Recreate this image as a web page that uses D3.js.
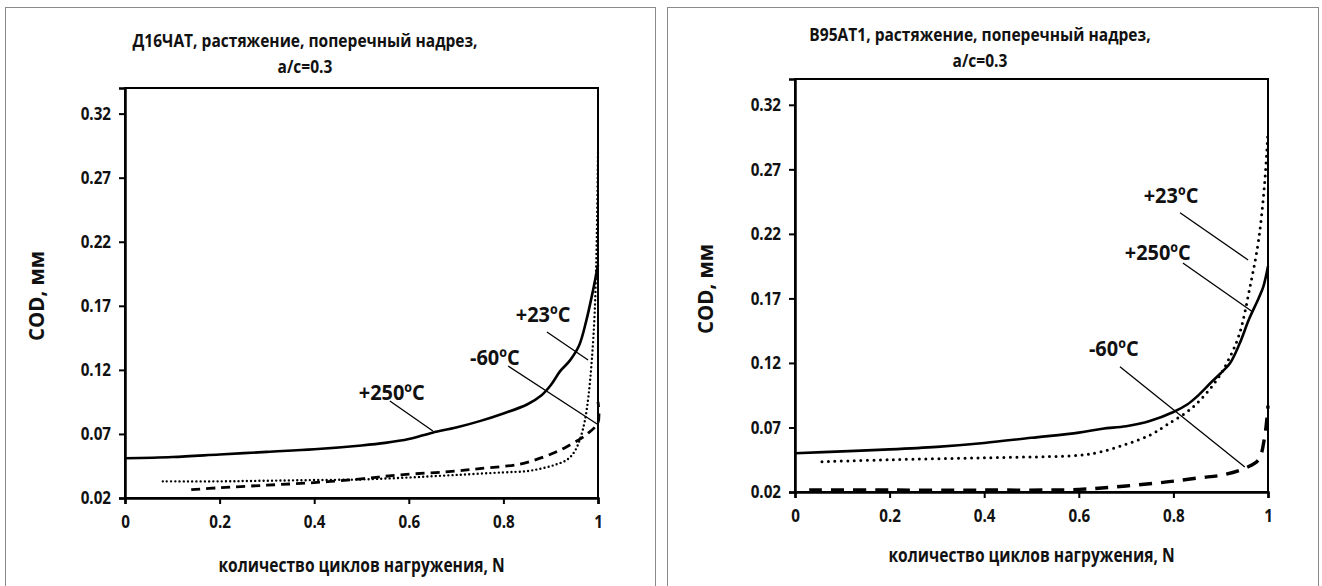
<!DOCTYPE html>
<html><head><meta charset="utf-8">
<script src="https://cdn.jsdelivr.net/npm/d3@7"></script>
<style>
html,body{margin:0;padding:0;background:#fff;}
svg{display:block;}
text{font-family:"Open Sans","Noto Sans",sans-serif;font-weight:700;fill:#111;}
</style></head>
<body>
<svg id="chart" width="1322" height="586"></svg>
<script>
// ---- data ----
const xTicks = [0, 0.2, 0.4, 0.6, 0.8, 1];
const yTicks = [0.02, 0.07, 0.12, 0.17, 0.22, 0.27, 0.32];
const titlesLeft = ["Д16ЧАТ, растяжение, поперечный надрез,", "a/c=0.3"];
const titlesRight = ["B95AT1, растяжение, поперечный надрез,", "a/c=0.3"];
const xLabel = "количество циклов нагружения, N";
const yLabel = "COD, мм";
const seriesNames = ["+250ºC", "+23ºC", "-60ºC"];

// Д16ЧАТ  [N, COD]
const d16_T250 = [[0,0.051],[0.1,0.052],[0.2,0.054],[0.3,0.056],[0.4,0.058],[0.5,0.061],[0.55,0.063],[0.6,0.066],[0.65,0.071],[0.7,0.075],[0.75,0.080],[0.8,0.086],[0.85,0.093],[0.88,0.100],[0.9,0.108],[0.92,0.119],[0.94,0.127],[0.96,0.139],[0.975,0.158],[0.99,0.183],[1,0.202]];
const d16_T23 = [[0.08,0.033],[0.2,0.033],[0.3,0.0335],[0.4,0.034],[0.5,0.0345],[0.6,0.036],[0.7,0.038],[0.8,0.040],[0.85,0.041],[0.88,0.043],[0.91,0.046],[0.935,0.050],[0.95,0.056],[0.962,0.066],[0.972,0.080],[0.98,0.100],[0.987,0.128],[0.993,0.165],[0.997,0.215],[1,0.29]];
const d16_Tm60 = [[0.14,0.0265],[0.2,0.028],[0.3,0.030],[0.4,0.032],[0.5,0.035],[0.58,0.038],[0.7,0.041],[0.75,0.043],[0.835,0.0465],[0.892,0.053],[0.934,0.060],[0.977,0.070],[1,0.079],[1,0.095]];

// B95AT1  [N, COD]
const b95_T250 = [[0,0.050],[0.1,0.0515],[0.2,0.053],[0.3,0.055],[0.4,0.058],[0.5,0.062],[0.6,0.066],[0.65,0.069],[0.7,0.071],[0.75,0.075],[0.8,0.082],[0.83,0.088],[0.85,0.094],[0.88,0.105],[0.9,0.112],[0.92,0.120],[0.94,0.135],[0.96,0.154],[0.98,0.170],[0.99,0.179],[1,0.195]];
const b95_T23 = [[0.057,0.0435],[0.2,0.045],[0.4,0.0465],[0.6,0.0485],[0.645,0.051],[0.7,0.057],[0.75,0.064],[0.786,0.072],[0.842,0.086],[0.892,0.107],[0.92,0.125],[0.94,0.143],[0.962,0.179],[0.98,0.215],[0.993,0.260],[1,0.300]];
const b95_Tm60 = [[0.03,0.0215],[0.2,0.0215],[0.4,0.0215],[0.6,0.022],[0.7,0.0247],[0.786,0.0278],[0.855,0.031],[0.905,0.0333],[0.955,0.039],[0.98,0.045],[0.993,0.063],[1,0.087]];

// ---- drawing ----
const svg = d3.select("#chart");
const styles = {
  solid:  {w:2.6, dash:null, cap:"butt"},
  dotL:   {w:2.4, dash:"0 4.2", cap:"round"},
  dotR:   {w:3.0, dash:"0 6.5", cap:"round"},
  dashL:  {w:2.8, dash:"9 6", cap:"butt"},
  dashR:  {w:3.4, dash:"13 9", cap:"butt"}
};
function squeeze(k){
  return sel => sel.each(function(){
    const w = this.getComputedTextLength();
    d3.select(this).attr("textLength", w*k).attr("lengthAdjust","spacingAndGlyphs");
  });
}

function panel(cfg){
  const g = svg.append("g");
  g.append("rect").attr("x",cfg.frame[0]+0.5).attr("y",cfg.frame[1]+0.5)
   .attr("width",cfg.frame[2]).attr("height",cfg.frame[3])
   .attr("fill","none").attr("stroke","#8a8a8a").attr("stroke-width",1);

  const x = d3.scaleLinear().domain([0,1]).range([cfg.x0,cfg.x1]);
  const y = d3.scaleLinear().domain([0.02,0.34]).range([cfg.y0,cfg.y1]);

  cfg.titles.forEach((t,i)=>{
    g.append("text").attr("x",cfg.titleX).attr("y",cfg.titleY+i*25.5)
     .attr("text-anchor","middle").attr("font-size",18.5).text(t).call(squeeze(0.84));
  });

  g.append("rect").attr("x",cfg.x0).attr("y",cfg.y1).attr("width",cfg.x1-cfg.x0).attr("height",cfg.y0-cfg.y1)
   .attr("fill","none").attr("stroke","#000").attr("stroke-width",2);

  const yAxis = g.append("g").attr("transform",`translate(${cfg.x0},0)`)
    .call(d3.axisLeft(y).tickValues(yTicks).tickFormat(d3.format(".2f")).tickSize(6).tickPadding(8));
  const xAxis = g.append("g").attr("transform",`translate(0,${cfg.y0})`)
    .call(d3.axisBottom(x).tickValues(xTicks).tickFormat(d=>d===0||d===1?String(d):d3.format(".1f")(d)).tickSize(6).tickPadding(11));
  [yAxis,xAxis].forEach(a=>{
    a.select(".domain").attr("stroke","#000").attr("stroke-width",2.5);
    a.selectAll(".tick line").attr("stroke","#000").attr("stroke-width",2);
    a.selectAll(".tick text").attr("font-size",18.5).attr("fill","#111")
      .attr("font-family",'"Open Sans","Noto Sans",sans-serif').attr("font-weight",700).call(squeeze(0.82));
  });

  g.append("text").attr("x",(cfg.x0+cfg.x1)/2).attr("y",cfg.xLabelY)
   .attr("text-anchor","middle").attr("font-size",19.5).text(xLabel).call(squeeze(0.8));
  g.append("text").attr("transform",`translate(${cfg.yLabelX},${cfg.yLabelY}) rotate(-90)`)
   .attr("text-anchor","middle").attr("font-size",22).text(yLabel).call(squeeze(0.93));

  const line = d3.line().x(d=>x(d[0])).y(d=>y(d[1])).curve(d3.curveCatmullRom.alpha(0.5));
  cfg.series.forEach(s=>{
    const st = styles[s.style];
    g.append("path").datum(s.data).attr("d",line).attr("fill","none")
     .attr("stroke","#000").attr("stroke-width",st.w)
     .attr("stroke-dasharray",st.dash).attr("stroke-linecap",st.cap).attr("stroke-linejoin","round");
  });

  cfg.notes.forEach(n=>{
    g.append("line").attr("x1",x(n.from[0])).attr("y1",y(n.from[1]))
     .attr("x2",x(n.to[0])).attr("y2",y(n.to[1])).attr("stroke","#000").attr("stroke-width",1.3);
    g.append("text").attr("x",x(n.at[0])).attr("y",y(n.at[1])).attr("dy","0.36em")
     .attr("text-anchor","middle").attr("font-size",21).text(n.label).call(squeeze(0.95));
  });
}

panel({
  frame:[5,7,650,600],
  x0:125, x1:598, y0:498, y1:88,
  titles:titlesLeft, titleX:305, titleY:47,
  xLabelY:572, yLabelX:44, yLabelY:296,
  series:[
    {data:d16_T23, style:"dotL"},
    {data:d16_Tm60, style:"dashL"},
    {data:d16_T250, style:"solid"}
  ],
  notes:[
    {label:seriesNames[0], at:[0.564,0.1027], from:[0.560,0.0957], to:[0.651,0.0723]},
    {label:seriesNames[2], at:[0.782,0.130], from:[0.810,0.123], to:[0.998,0.0778]},
    {label:seriesNames[1], at:[0.884,0.163], from:[0.892,0.1496], to:[0.979,0.1277]}
  ]
});

panel({
  frame:[667,7,651,600],
  x0:795, x1:1268, y0:492, y1:79,
  titles:titlesRight, titleX:980, titleY:41,
  xLabelY:562, yLabelX:713, yLabelY:289,
  series:[
    {data:b95_T23, style:"dotR"},
    {data:b95_Tm60, style:"dashR"},
    {data:b95_T250, style:"solid"}
  ],
  notes:[
    {label:seriesNames[1], at:[0.795,0.2495], from:[0.814,0.2363], to:[0.958,0.1998]},
    {label:seriesNames[0], at:[0.767,0.206], from:[0.820,0.1975], to:[0.968,0.1595]},
    {label:seriesNames[2], at:[0.674,0.1309], from:[0.687,0.117], to:[0.951,0.0394]}
  ]
});
</script>
</body></html>
